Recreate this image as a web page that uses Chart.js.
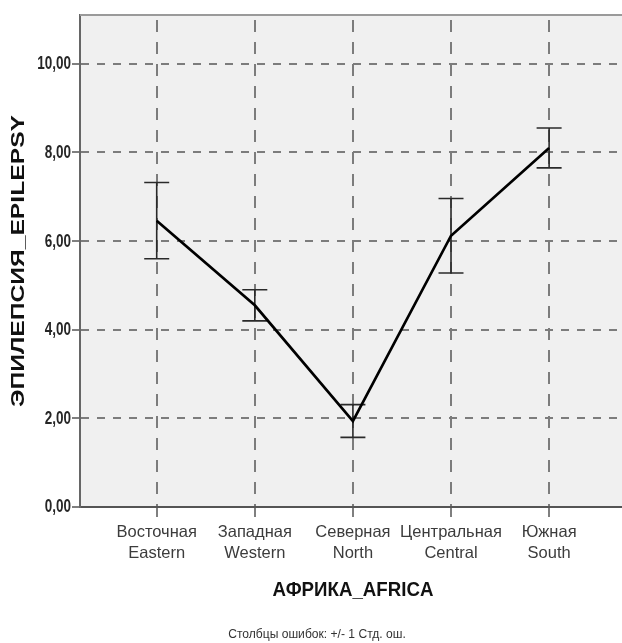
<!DOCTYPE html>
<html>
<head>
<meta charset="utf-8">
<script src="https://cdn.jsdelivr.net/npm/chart.js@4"></script>
<style>
  html, body { margin: 0; padding: 0; background: #ffffff; }
  #wrap { width: 622px; height: 643px; }
</style>
</head>
<body>
<div id="wrap"><canvas id="c" width="622" height="643"></canvas></div>
<script>
// Regions of Africa (two-line category labels)
const regionsRu = ['Восточная', 'Западная', 'Северная', 'Центральная', 'Южная'];
const regionsEn = ['Eastern', 'Western', 'North', 'Central', 'South'];

// Mean epilepsy value per region and its standard error
const meanValues = [6.46, 4.55, 1.94, 6.12, 8.10];
const stdErrors  = [0.86, 0.35, 0.37, 0.84, 0.45];

// Value-axis ticks
const yTicks = [0, 2, 4, 6, 8, 10];

const yTitle = 'ЭПИЛЕПСИЯ_EPILEPSY';
const xTitle = 'АФРИКА_AFRICA';
const footnote = 'Столбцы ошибок: +/- 1 Стд. ош.';

const SANS = "'Liberation Sans', Arial, sans-serif";
const fmt = v => v.toFixed(2).replace('.', ',');

// Draws text squeezed or stretched along its baseline
function drawText(ctx, text, x, y, font, sx, align, angle) {
  ctx.save();
  ctx.translate(x, y);
  if (angle) ctx.rotate(angle);
  ctx.scale(sx, 1);
  ctx.font = font;
  ctx.textAlign = align;
  ctx.textBaseline = 'middle';
  ctx.fillText(text, 0, 0);
  ctx.restore();
}

// Background, frame, error bars, condensed value labels and titles
const decor = {
  id: 'decor',
  beforeDraw(chart) {
    const { ctx, chartArea: a } = chart;
    ctx.save();
    ctx.fillStyle = '#ffffff';
    ctx.fillRect(0, 0, chart.width, chart.height);
    ctx.fillStyle = '#f0f0f0';
    ctx.fillRect(a.left, a.top, a.right - a.left, a.bottom - a.top);
    ctx.restore();
  },
  beforeDatasetsDraw(chart) {
    const { ctx, chartArea: a, scales: { x, y } } = chart;
    ctx.save();
    // top frame line
    ctx.strokeStyle = '#9a9a9a';
    ctx.lineWidth = 2;
    ctx.beginPath();
    ctx.moveTo(a.left, a.top);
    ctx.lineTo(a.right, a.top);
    ctx.stroke();
    // +/- 1 standard error bars
    ctx.strokeStyle = '#2a2a2a';
    ctx.lineWidth = 1.6;
    const cap = 12.5;
    meanValues.forEach((m, i) => {
      const px = x.getPixelForValue(i);
      const hi = y.getPixelForValue(m + stdErrors[i]);
      const lo = y.getPixelForValue(m - stdErrors[i]);
      ctx.beginPath();
      ctx.moveTo(px, hi); ctx.lineTo(px, lo);
      ctx.moveTo(px - cap, hi); ctx.lineTo(px + cap, hi);
      ctx.moveTo(px - cap, lo); ctx.lineTo(px + cap, lo);
      ctx.stroke();
    });
    ctx.restore();
  },
  afterDraw(chart) {
    const { ctx, chartArea: a, scales: { y } } = chart;
    ctx.save();
    ctx.fillStyle = '#262626';
    // value-axis tick labels (narrow bold digits)
    yTicks.forEach(v => {
      drawText(ctx, fmt(v), 71, y.getPixelForValue(v) + 0.5, 'bold 18px ' + SANS, 0.75, 'right');
    });
    ctx.fillStyle = '#111111';
    // value-axis title
    drawText(ctx, yTitle, 19, (a.top + a.bottom) / 2, 'bold 18px ' + SANS, 1.37, 'center', -Math.PI / 2);
    // category-axis title
    drawText(ctx, xTitle, (a.left + a.right) / 2 + 2, 590, 'bold 21px ' + SANS, 0.89, 'center');
    // footnote
    ctx.fillStyle = '#333333';
    drawText(ctx, footnote, 317, 634, '13px ' + SANS, 0.93, 'center');
    ctx.restore();
  }
};

new Chart(document.getElementById('c'), {
  type: 'line',
  data: {
    datasets: [{
      data: meanValues.map((v, i) => ({ x: i, y: v })),
      borderColor: '#000000',
      borderWidth: 2.7,
      pointRadius: 0,
      tension: 0,
      fill: false
    }]
  },
  options: {
    responsive: false,
    animation: false,
    devicePixelRatio: 1,
    layout: { padding: { top: 15, left: 0, right: 0, bottom: 0 } },
    plugins: { legend: { display: false }, tooltip: { enabled: false } },
    scales: {
      x: {
        type: 'linear',
        bounds: 'data',
        min: -0.782,
        max: 4.743,
        afterBuildTicks: s => { s.ticks = regionsRu.map((_, i) => ({ value: i })); },
        afterFit: s => { s.height = 136; },
        ticks: {
          autoSkip: false,
          maxRotation: 0,
          padding: 5,
          color: '#3c3c3c',
          font: { family: SANS, size: 16.5, lineHeight: 1.28 },
          callback: v => [regionsRu[v], regionsEn[v]]
        },
        grid: { color: '#7c7c7c', lineWidth: 2, tickLength: 10, tickColor: '#555555', tickWidth: 1.5 },
        border: { display: true, color: '#555555', width: 2, dash: [12, 10], dashOffset: 17 }
      },
      y: {
        type: 'linear',
        bounds: 'data',
        min: 0,
        max: 11.1,
        afterBuildTicks: s => { s.ticks = yTicks.map(v => ({ value: v })); },
        afterFit: s => { s.width = 80; },
        ticks: { display: false, callback: fmt },
        grid: { color: '#7c7c7c', lineWidth: 2, tickLength: 8, tickColor: '#555555', tickWidth: 1.5 },
        border: { display: true, color: '#666666', width: 2, dash: [8, 8] }
      }
    }
  },
  plugins: [decor]
});
</script>
</body>
</html>
